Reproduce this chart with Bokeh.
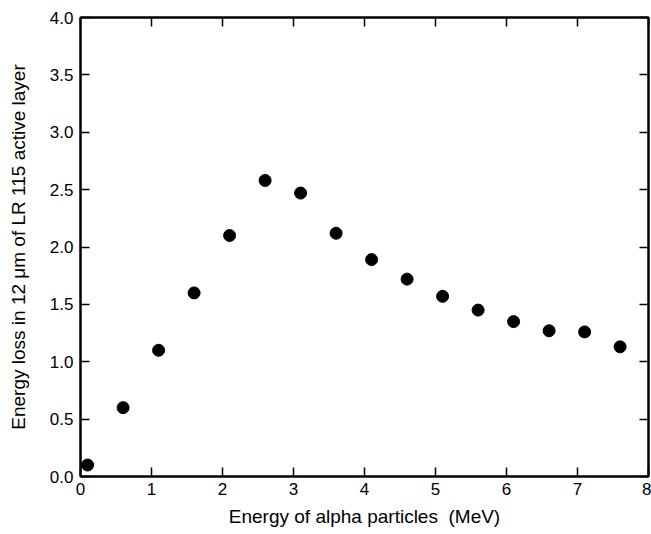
from bokeh.plotting import figure
from bokeh.models import Range1d, LinearAxis, PrintfTickFormatter, FixedTicker
from bokeh.embed import file_html
from bokeh.resources import INLINE

energy_mev = [0.1, 0.6, 1.1, 1.6, 2.1, 2.6, 3.1, 3.6, 4.1, 4.6, 5.1, 5.6, 6.1, 6.6, 7.1, 7.6]
energy_loss = [0.10, 0.60, 1.10, 1.60, 2.10, 2.58, 2.47, 2.12, 1.89, 1.72, 1.57, 1.45, 1.35, 1.27, 1.26, 1.13]
x_ticks = [0, 1, 2, 3, 4, 5, 6, 7, 8]
y_ticks = [0.0, 0.5, 1.0, 1.5, 2.0, 2.5, 3.0, 3.5, 4.0]

FONT = "Liberation Sans"

p = figure(width=651, height=534, output_backend="svg", toolbar_location=None,
           x_range=Range1d(0, 8), y_range=Range1d(0, 4),
           x_axis_location=None, y_axis_location=None,
           min_border_left=80, min_border_right=3, min_border_top=17, min_border_bottom=58)
p.xgrid.visible = False
p.ygrid.visible = False
p.outline_line_color = "black"
p.outline_line_width = 2

def style(ax, labels=True):
    ax.axis_line_width = 2
    ax.axis_line_color = "black"
    ax.major_tick_line_width = 1.5
    ax.major_tick_line_color = "black"
    ax.major_tick_in = 9
    ax.major_tick_out = 0
    ax.minor_tick_line_color = None
    ax.major_label_text_font = FONT
    ax.major_label_text_font_size = "17px"
    ax.major_label_text_color = "black" if labels else None
    ax.axis_label_text_font = FONT
    ax.axis_label_text_font_size = "19px"
    ax.axis_label_text_color = "black"
    ax.axis_label_text_font_style = "normal"

xb = LinearAxis(ticker=FixedTicker(ticks=x_ticks), axis_label="Energy of alpha particles\u00a0 (MeV)")
style(xb)
xb.major_label_standoff = 6
xb.axis_label_standoff = 8
p.add_layout(xb, "below")

xt = LinearAxis(ticker=FixedTicker(ticks=x_ticks))
style(xt, labels=False)
xt.major_label_text_font_size = "0px"
p.add_layout(xt, "above")

yl = LinearAxis(ticker=FixedTicker(ticks=y_ticks), axis_label="Energy loss in 12 μm of LR 115 active layer",
                formatter=PrintfTickFormatter(format="%.1f"))
style(yl)
yl.major_label_standoff = 7
yl.axis_label_standoff = 18
p.add_layout(yl, "left")

yr = LinearAxis(ticker=FixedTicker(ticks=y_ticks))
style(yr, labels=False)
yr.major_label_text_font_size = "0px"
p.add_layout(yr, "right")

p.scatter(energy_mev, energy_loss, size=12, color="black")

open("out.html", "w").write(file_html(p, INLINE))
